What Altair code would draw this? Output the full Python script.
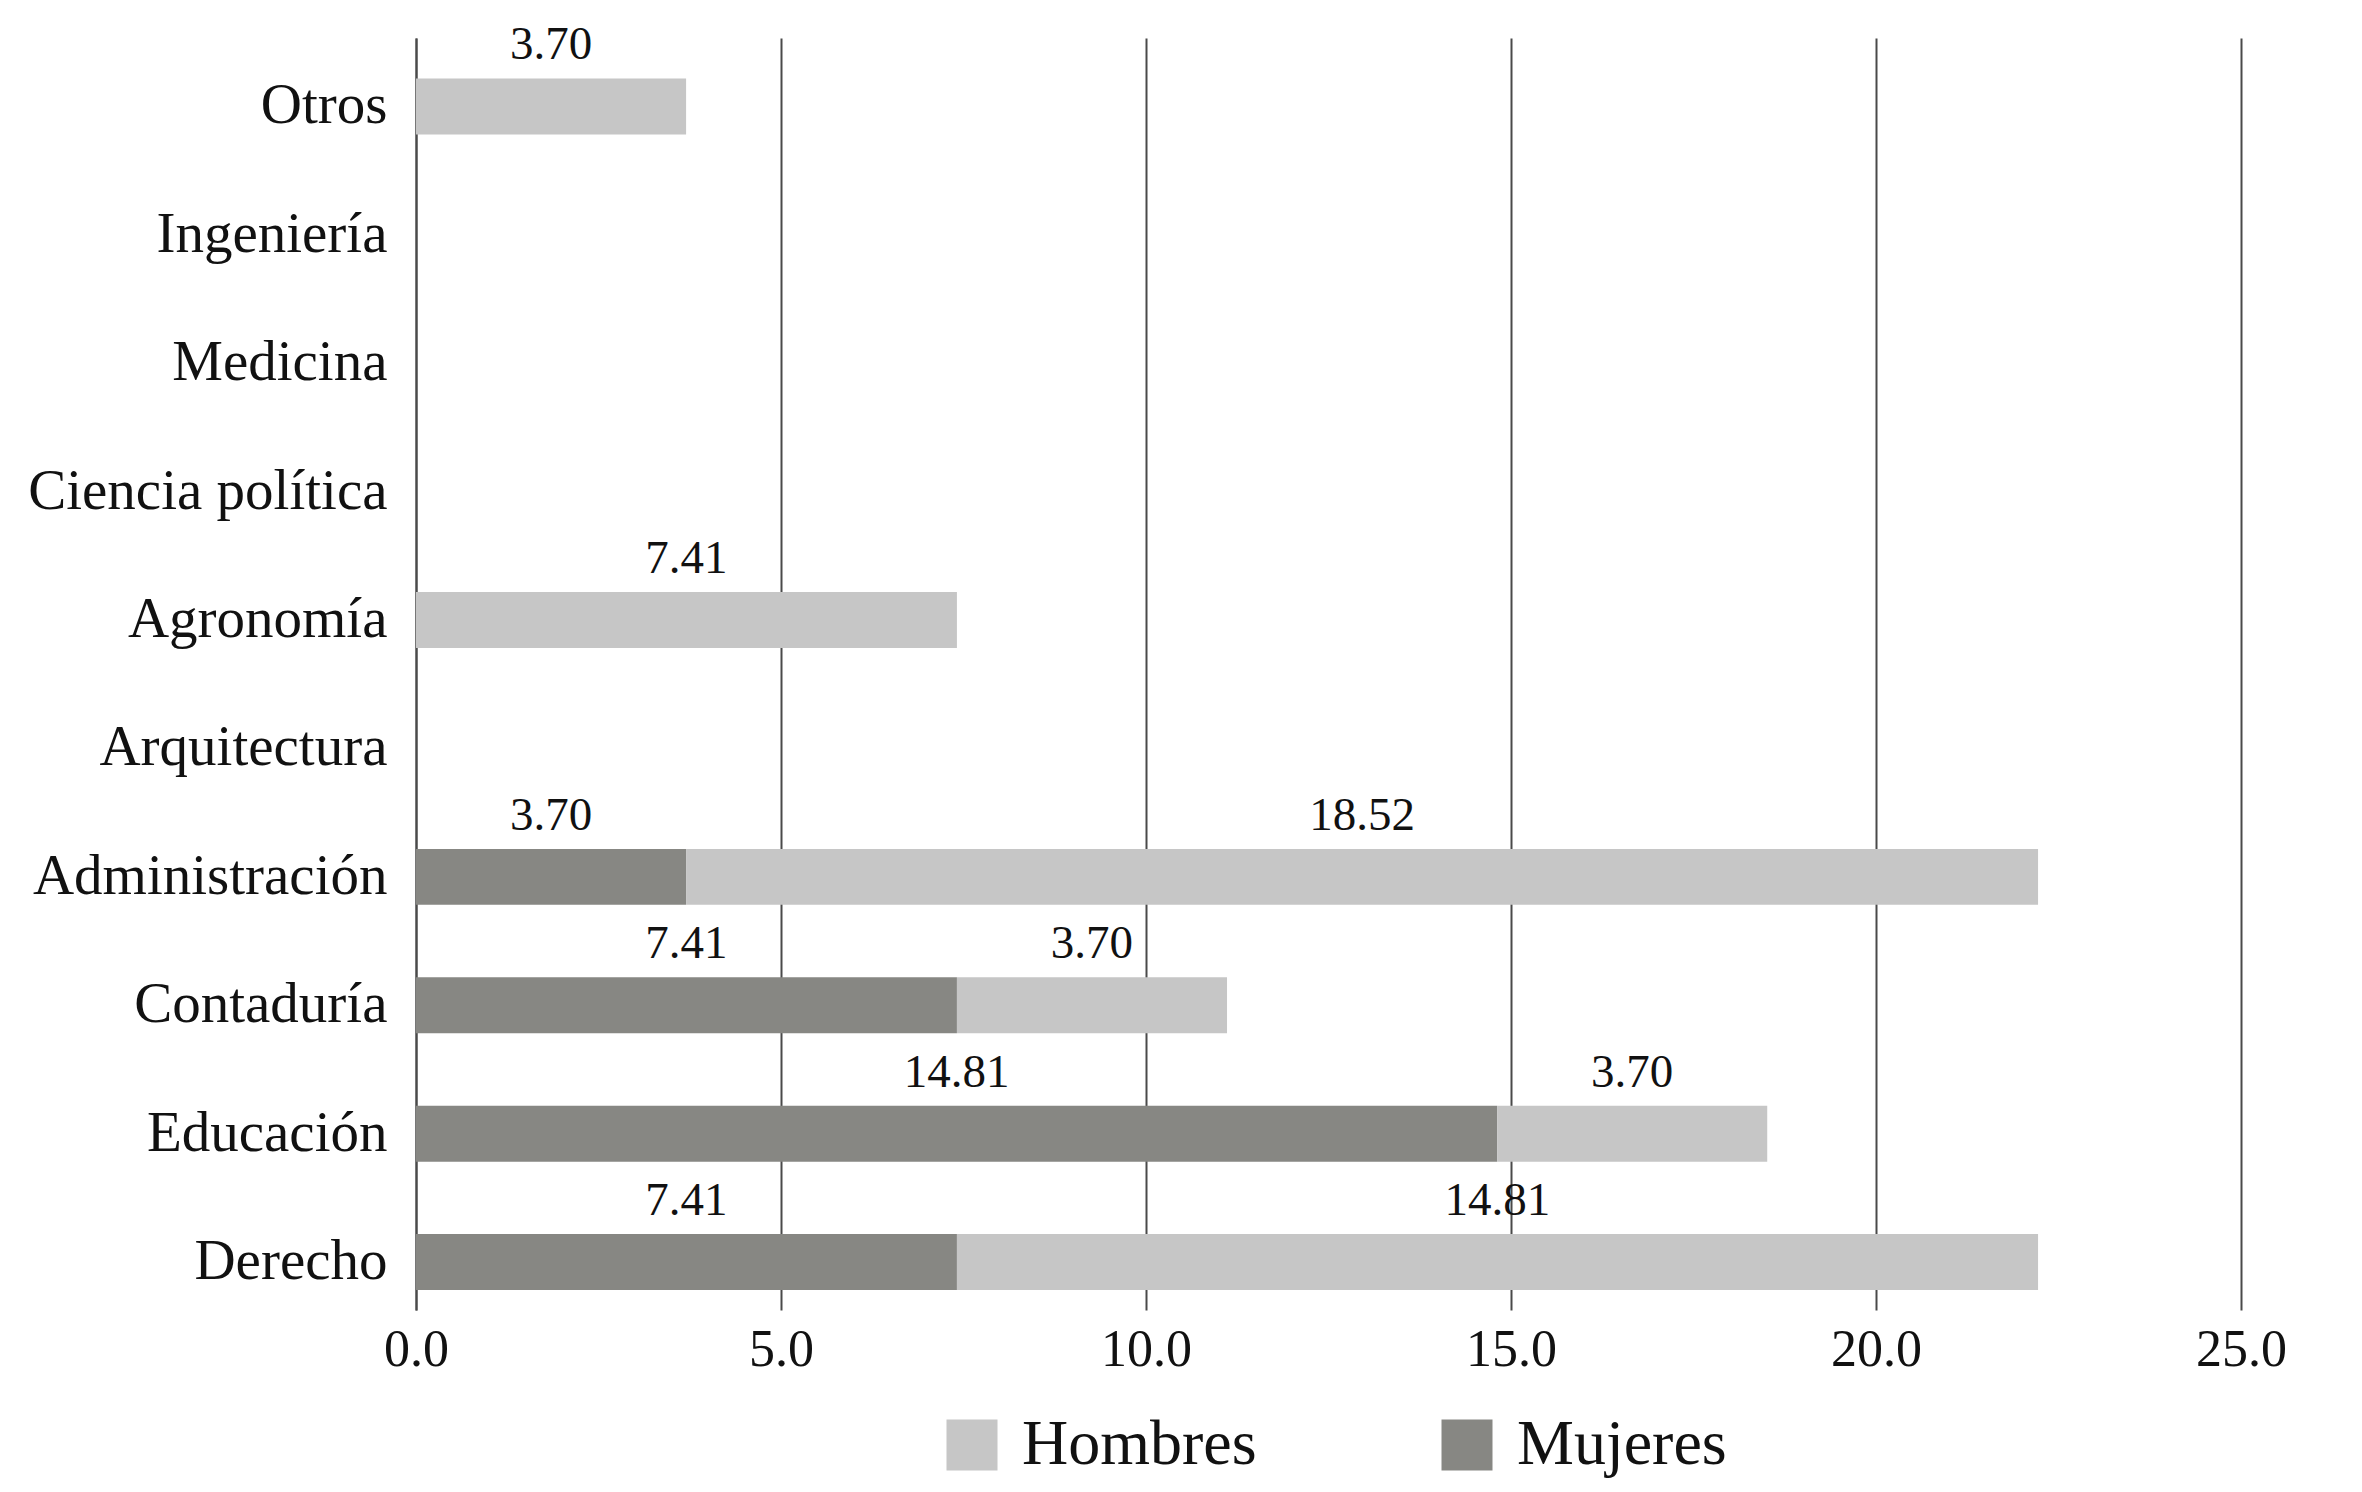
import altair as alt
import pandas as pd

categorias = ["Otros", "Ingeniería", "Medicina", "Ciencia política", "Agronomía",
              "Arquitectura", "Administración", "Contaduría", "Educación", "Derecho"]
mujeres = [0, 0, 0, 0, 0, 0, 3.70, 7.41, 14.81, 7.41]
hombres = [3.70, 0, 0, 0, 7.41, 0, 18.52, 3.70, 3.70, 14.81]
series = ["Hombres", "Mujeres"]
colores = ["#c6c6c6", "#878783"]
ticks_x = [0, 5, 10, 15, 20, 25]

rows = []
for c, m, h in zip(categorias, mujeres, hombres):
    rows.append({"cat": c, "serie": "Mujeres", "valor": m, "ini": 0.0, "fin": m})
    rows.append({"cat": c, "serie": "Hombres", "valor": h, "ini": m, "fin": m + h})
df = pd.DataFrame(rows)
df["mid"] = (df["ini"] + df["fin"]) / 2
df["etq"] = df["valor"].map(lambda v: f"{v:.2f}")
df = df[df["valor"] > 0]

FONT = "Liberation Serif"
LINE = "#4a4a4a"

y_scale = alt.Scale(domain=categorias, paddingInner=0.564, paddingOuter=0.235, align=0.67)

y_enc = alt.Y("cat:N", sort=categorias, scale=y_scale,
              axis=alt.Axis(title=None, ticks=False, domain=True, domainColor=LINE,
                            domainWidth=2, labelFont=FONT, labelFontSize=57,
                            labelColor="#111111", labelPadding=29, grid=False,
                            labelLimit=0))

x_scale = alt.Scale(domain=[0, 25], nice=False)

bars = alt.Chart(df).mark_bar().encode(
    y=y_enc,
    x=alt.X("ini:Q", scale=x_scale,
            axis=alt.Axis(title=None, values=ticks_x, format=".1f", grid=True,
                          gridColor=LINE, gridWidth=2, domain=False, ticks=False,
                          labelFont=FONT, labelFontSize=52, labelColor="#111111",
                          labelPadding=14, labelFlush=False)),
    x2="fin:Q",
    color=alt.Color("serie:N", scale=alt.Scale(domain=series, range=colores),
                    legend=alt.Legend(title=None, orient="none", direction="horizontal",
                                      legendX=524, legendY=1375, symbolType="square",
                                      symbolSize=2601, symbolStrokeWidth=0,
                                      labelFont=FONT, labelFontSize=64,
                                      labelColor="#111111", labelOffset=18,
                                      columnPadding=178, labelLimit=0)),
)

text = alt.Chart(df).mark_text(font=FONT, fontSize=47, color="#111111",
                               baseline="alphabetic", dy=-47).encode(
    y=alt.Y("cat:N", sort=categorias, scale=y_scale),
    x=alt.X("mid:Q", scale=x_scale),
    text="etq:N",
)

chart = (bars + text).properties(
    width=1825, height=1272,
    autosize=alt.AutoSizeParams(type="none"),
    padding={"left": 408, "top": 30, "right": 100, "bottom": 170},
).configure_view(stroke=None)

chart.save("out.html", embed_options={"renderer": "svg", "actions": False})
